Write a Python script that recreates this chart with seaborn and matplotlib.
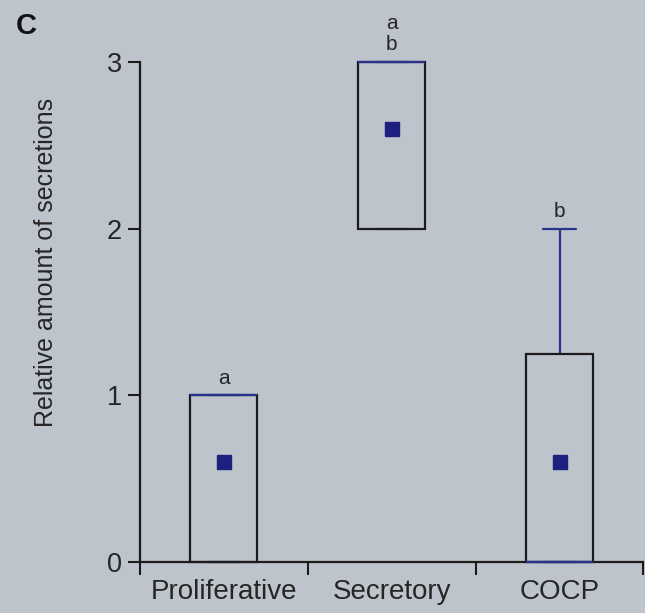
import numpy as np
import pandas as pd
import matplotlib
matplotlib.use("Agg")
import matplotlib.pyplot as plt
import seaborn as sns

# Secretion scores (0-3) for each endometrial group
groups = ["Proliferative", "Secretory", "COCP"]
proliferative = [0, 0, 0, 0, 0, 0, 0, 0, 1, 1, 1, 1, 1, 1, 1, 1, 1, 1, 1, 1]
secretory = [2, 2, 2, 2, 2, 2, 2, 2, 3, 3, 3, 3, 3, 3, 3, 3, 3, 3, 3, 3]
cocp = [0, 0, 0, 0, 0, 0, 0, 0, 0, 0, 0, 0, 0, 1, 1, 2, 2, 2, 2, 2]
letters = ["a", "a\nb", "b"]
y_ticks = [0, 1, 2, 3]

bg = "#bec4cc"
ink = "#1c1c1c"
text_col = "#262626"
navy = "#28338e"
mean_col = "#1f1f80"

df = pd.DataFrame({
    "group": np.repeat(groups, [len(proliferative), len(secretory), len(cocp)]),
    "score": np.concatenate([proliferative, secretory, cocp]),
})

sns.set_theme(style="ticks")
plt.rcParams["font.family"] = ["Liberation Sans", "DejaVu Sans"]

fig = plt.figure(figsize=(6.45, 6.13), dpi=100, facecolor=bg)
ax = fig.add_axes([140 / 645, 51 / 613, 503.5 / 645, 500 / 613])
ax.set_facecolor(bg)

lw = 1.6
sns.boxplot(
    data=df, x="group", y="score", order=groups, width=0.4, whis=1.5,
    showmeans=True, showfliers=False, linewidth=lw, linecolor=ink, ax=ax,
    boxprops=dict(facecolor="none", edgecolor=ink, linewidth=lw, zorder=2),
    whiskerprops=dict(color=navy, linewidth=lw, zorder=1.5),
    capprops=dict(color=navy, linewidth=lw, zorder=1.5),
    medianprops=dict(color=navy, linewidth=lw, zorder=3),
    meanprops=dict(marker="s", markersize=10.5, markerfacecolor=mean_col,
                   markeredgecolor=mean_col, zorder=4),
)
for art in list(ax.lines) + list(ax.patches):
    art.set_clip_on(False)

# significance letters above each group's highest value
for i, (vals, lab) in enumerate(zip([proliferative, secretory, cocp], letters)):
    ax.annotate(lab, xy=(i, max(vals)), xytext=(0, 5.5), textcoords="offset points",
                ha="center", va="bottom", fontsize=15, color=text_col,
                linespacing=1.15, annotation_clip=False)

ax.set_xlim(-0.5, 2.5)
ax.set_ylim(0, 3)
ax.set_yticks(y_ticks)
ax.set_xticks([-0.5, 0.5, 1.5, 2.5])
ax.set_xticklabels([])
ax.set_xticks([0, 1, 2], minor=True)
ax.set_xticklabels(groups, minor=True)
ax.tick_params(axis="x", which="major", length=9, width=1.5, direction="out", color=ink)
ax.tick_params(axis="x", which="minor", length=0, pad=12, labelsize=20, labelcolor=text_col)
ax.tick_params(axis="y", length=9, width=1.5, pad=4, labelsize=19.5, color=ink, labelcolor=text_col)

sns.despine(ax=ax)
for side in ["left", "bottom"]:
    ax.spines[side].set_linewidth(lw)
    ax.spines[side].set_color(ink)

ax.set_xlabel("")
ax.set_ylabel("Relative amount of secretions", fontsize=18, color=text_col)
ax.yaxis.set_label_coords(-0.163, 0.6)

fig.text(16 / 645, 1 - 12 / 613, "C", fontsize=21, fontweight="bold", va="top", ha="left", color="#111111")

fig.savefig("out.png", dpi=100, facecolor=bg)
